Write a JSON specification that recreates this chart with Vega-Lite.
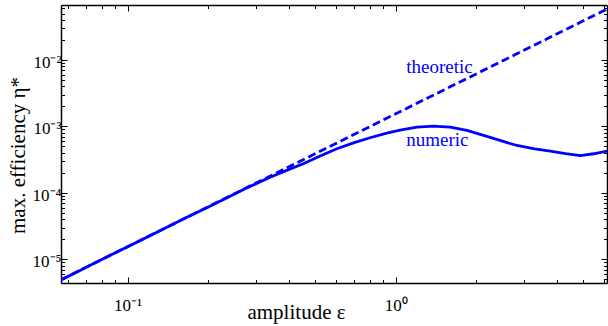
{
  "$schema": "https://vega.github.io/schema/vega-lite/v6.json",
  "width": 546,
  "height": 278,
  "autosize": "none",
  "padding": {"left": 61, "top": 5, "right": 1, "bottom": 43},
  "background": "white",
  "config": {
    "view": {"stroke": null},
    "axis": {
      "grid": false,
      "domainColor": "black",
      "domainWidth": 1.5,
      "tickColor": "black",
      "tickWidth": 1,
      "labelColor": "black",
      "labelFont": "Liberation Serif",
      "labelFontSize": 17,
      "labelFlush": false,
      "labelOverlap": false,
      "titleFont": "Liberation Serif",
      "titleFontSize": 21,
      "titleFontWeight": "normal",
      "titleColor": "black"
    },
    "text": {"font": "Liberation Serif"}
  },
  "datasets": {
    "theoretic": [
      {"eps": 0.0564, "eta": 0.00000493},
      {"eps": 0.2, "eta": 0.000062},
      {"eps": 1, "eta": 0.00155},
      {"eps": 6.14, "eta": 0.05843}
    ],
    "numeric": [
      {"eps": 0.0564, "eta": 0.0000049},
      {"eps": 0.065, "eta": 0.0000065},
      {"eps": 0.075, "eta": 0.0000087},
      {"eps": 0.085, "eta": 0.0000112},
      {"eps": 0.1, "eta": 0.0000155},
      {"eps": 0.12, "eta": 0.0000223},
      {"eps": 0.14, "eta": 0.0000303},
      {"eps": 0.17, "eta": 0.0000447},
      {"eps": 0.2, "eta": 0.0000615},
      {"eps": 0.24, "eta": 0.000088},
      {"eps": 0.28, "eta": 0.00012},
      {"eps": 0.34, "eta": 0.000172},
      {"eps": 0.4, "eta": 0.000226},
      {"eps": 0.452, "eta": 0.000274},
      {"eps": 0.52, "eta": 0.000355},
      {"eps": 0.603, "eta": 0.000461},
      {"eps": 0.7, "eta": 0.00057},
      {"eps": 0.802, "eta": 0.000676},
      {"eps": 0.926, "eta": 0.000793},
      {"eps": 1.038, "eta": 0.00088},
      {"eps": 1.2, "eta": 0.000976},
      {"eps": 1.383, "eta": 0.00101},
      {"eps": 1.597, "eta": 0.000976},
      {"eps": 1.843, "eta": 0.00087},
      {"eps": 2.188, "eta": 0.000707},
      {"eps": 2.5, "eta": 0.0006},
      {"eps": 2.833, "eta": 0.000517},
      {"eps": 3.3, "eta": 0.00046},
      {"eps": 3.772, "eta": 0.000425},
      {"eps": 4.3, "eta": 0.00039},
      {"eps": 4.882, "eta": 0.000365},
      {"eps": 5.47, "eta": 0.000388},
      {"eps": 6.14, "eta": 0.000425}
    ],
    "labels": [
      {"eps": 1.094, "eta": 0.00644, "text": "theoretic"},
      {"eps": 1.094, "eta": 0.0005, "text": "numeric"}
    ]
  },
  "layer": [
    {
      "data": {"name": "theoretic"},
      "mark": {"type": "line", "color": "#0000ff", "strokeWidth": 2.8, "strokeDash": [8, 4], "clip": true},
      "encoding": {
        "x": {
          "field": "eps", "type": "quantitative",
          "scale": {"type": "log", "domain": [0.0564, 6.14], "nice": false},
          "axis": {
            "orient": "bottom",
            "values": [0.06, 0.07, 0.08, 0.09, 0.1, 0.2, 0.3, 0.4, 0.5, 0.6, 0.7, 0.8, 0.9, 1, 2, 3, 4, 5, 6],
            "labelExpr": "datum.value == 0.1 ? '10⁻¹' : datum.value == 1 ? '10⁰' : ''",
            "tickSize": {"condition": {"test": "datum.value == 0.1 || datum.value == 1", "value": -6}, "value": -3.5},
            "labelBaseline": "alphabetic",
            "labelPadding": 33,
            "title": "amplitude ε",
            "titleX": 235,
            "titleY": 35,
            "titleAlign": "center",
            "titleBaseline": "alphabetic"
          }
        },
        "y": {
          "field": "eta", "type": "quantitative",
          "scale": {"type": "log", "domain": [0.0000044, 0.0673], "nice": false},
          "axis": {
            "orient": "left",
            "values": [0.000005, 0.000006, 0.000007, 0.000008, 0.000009, 0.00001, 0.00002, 0.00003, 0.00004, 0.00005, 0.00006, 0.00007, 0.00008, 0.00009, 0.0001, 0.0002, 0.0003, 0.0004, 0.0005, 0.0006, 0.0007, 0.0008, 0.0009, 0.001, 0.002, 0.003, 0.004, 0.005, 0.006, 0.007, 0.008, 0.009, 0.01, 0.02, 0.03, 0.04, 0.05, 0.06],
            "labelExpr": "datum.value == 0.01 ? '10⁻²' : datum.value == 0.001 ? '10⁻³' : datum.value == 0.0001 ? '10⁻⁴' : datum.value == 0.00001 ? '10⁻⁵' : ''",
            "tickSize": {"condition": {"test": "datum.value == 0.01 || datum.value == 0.001 || datum.value == 0.0001 || datum.value == 0.00001", "value": -6}, "value": -3.5},
            "labelPadding": 6,
            "labelOffset": 2.5,
            "title": "max. efficiency η*",
            "titleX": -37,
            "titleY": 150,
            "titleAngle": 270,
            "titleAlign": "center",
            "titleBaseline": "alphabetic"
          }
        }
      }
    },
    {
      "data": {"name": "numeric"},
      "mark": {"type": "line", "color": "#0000ff", "strokeWidth": 2.8, "clip": true},
      "encoding": {
        "x": {
          "field": "eps", "type": "quantitative",
          "scale": {"type": "log", "domain": [0.0564, 6.14], "nice": false},
          "axis": {
            "orient": "top",
            "values": [0.06, 0.07, 0.08, 0.09, 0.1, 0.2, 0.3, 0.4, 0.5, 0.6, 0.7, 0.8, 0.9, 1, 2, 3, 4, 5, 6],
            "labels": false,
            "title": null,
            "tickSize": {"condition": {"test": "datum.value == 0.1 || datum.value == 1", "value": -6}, "value": -3.5}
          }
        },
        "y": {
          "field": "eta", "type": "quantitative",
          "scale": {"type": "log", "domain": [0.0000044, 0.0673], "nice": false},
          "axis": {
            "orient": "right",
            "values": [0.000005, 0.000006, 0.000007, 0.000008, 0.000009, 0.00001, 0.00002, 0.00003, 0.00004, 0.00005, 0.00006, 0.00007, 0.00008, 0.00009, 0.0001, 0.0002, 0.0003, 0.0004, 0.0005, 0.0006, 0.0007, 0.0008, 0.0009, 0.001, 0.002, 0.003, 0.004, 0.005, 0.006, 0.007, 0.008, 0.009, 0.01, 0.02, 0.03, 0.04, 0.05, 0.06],
            "labels": false,
            "title": null,
            "tickSize": {"condition": {"test": "datum.value == 0.01 || datum.value == 0.001 || datum.value == 0.0001 || datum.value == 0.00001", "value": -6}, "value": -3.5}
          }
        }
      }
    },
    {
      "data": {"name": "labels"},
      "mark": {"type": "text", "color": "#0000ff", "font": "Liberation Serif", "fontSize": 19, "align": "left", "baseline": "alphabetic"},
      "encoding": {
        "x": {"field": "eps", "type": "quantitative", "scale": {"type": "log", "domain": [0.0564, 6.14], "nice": false}, "axis": null},
        "y": {"field": "eta", "type": "quantitative", "scale": {"type": "log", "domain": [0.0000044, 0.0673], "nice": false}, "axis": null},
        "text": {"field": "text"}
      }
    }
  ],
  "resolve": {"axis": {"x": "independent", "y": "independent"}}
}
